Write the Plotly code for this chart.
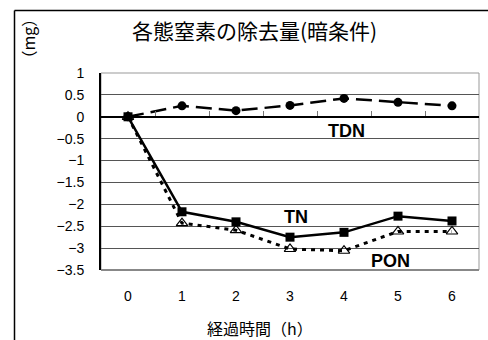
import plotly.graph_objects as go

hours = [0, 1, 2, 3, 4, 5, 6]
tdn = [0, 0.25, 0.14, 0.26, 0.42, 0.33, 0.25]
tn = [0, -2.17, -2.4, -2.75, -2.64, -2.27, -2.38]
pon = [0, -2.43, -2.59, -3.02, -3.06, -2.62, -2.62]

title_text = "各態窒素の除去量(暗条件)"
x_title = "経過時間（h）"
y_title = "（mg）"
series_labels = [("TDN", 4.04, -0.33), ("TN", 3.12, -2.29), ("PON", 4.86, -3.29)]

W, H = 488, 340
L, R, T, B = 101, 9, 73, 70
pw, ph = W - L - R, H - T - B

def px(xp):
    return (xp - L) / pw

def py(yp):
    return (H - B - yp) / ph

cjk = "Noto Sans CJK JP"
latin = "Liberation Sans"

fig = go.Figure()
fig.add_trace(go.Scatter(x=hours, y=tdn, mode="lines+markers", name="TDN",
                         line=dict(color="black", width=2.5, dash="16px,7px"),
                         marker=dict(symbol="circle", size=9, color="black")))
fig.add_trace(go.Scatter(x=hours, y=pon, mode="lines+markers", name="PON",
                         line=dict(color="black", width=3, dash="4px,5px"),
                         marker=dict(symbol="triangle-up-open", size=10, color="black",
                                     line=dict(width=1.2, color="black"))))
fig.add_trace(go.Scatter(x=hours, y=tn, mode="lines+markers", name="TN",
                         line=dict(color="black", width=2.5),
                         marker=dict(symbol="square", size=9, color="black")))
fig.add_trace(go.Scatter(x=hours, y=[None] * len(hours), xaxis="x2", showlegend=False,
                         hoverinfo="skip"))

for txt, xv, yv in series_labels:
    fig.add_annotation(x=xv, y=yv, text="<b>%s</b>" % txt, showarrow=False,
                       xanchor="center", yanchor="middle",
                       font=dict(family=latin, size=18, color="black"))

fig.add_annotation(x=px(254), y=py(30), xref="paper", yref="paper", text=title_text,
                   xanchor="center", yanchor="middle",
                   showarrow=False, font=dict(family=cjk, size=21, color="black"))
fig.add_annotation(x=px(27), y=py(38.5), xref="paper", yref="paper", text=y_title,
                   xanchor="center", yanchor="middle",
                   textangle=-90, showarrow=False, font=dict(family=cjk, size=16, color="black"))
fig.add_annotation(x=px(259.5), y=py(328), xref="paper", yref="paper", text=x_title,
                   xanchor="center", yanchor="middle",
                   showarrow=False, font=dict(family=cjk, size=16, color="black"))

# plot area border
fig.add_shape(type="rect", xref="paper", yref="paper", x0=0, x1=1, y0=0, y1=1,
              line=dict(color="#999999", width=1), layer="below")
fig.add_shape(type="line", xref="paper", yref="paper", x0=0, x1=1, y0=0, y1=0,
              line=dict(color="#888888", width=2), layer="below")
# outer frame
fig.add_shape(type="line", xref="paper", yref="paper", x0=px(14.5), x1=px(490),
              y0=py(10.5), y1=py(10.5), line=dict(color="black", width=1.5))
fig.add_shape(type="line", xref="paper", yref="paper", x0=px(14.5), x1=px(14.5),
              y0=py(10.5), y1=py(345), line=dict(color="black", width=1.5))

fig.update_layout(
    width=W, height=H, margin=dict(l=L, r=R, t=T, b=B),
    paper_bgcolor="white", plot_bgcolor="white", showlegend=False,
    xaxis=dict(range=[-0.5, 6.5], tickmode="array", tickvals=hours, ticks="",
               showline=False, showgrid=False, zeroline=False,
               tickfont=dict(family=latin, size=14, color="black"),
               ticklabelstandoff=16),
    xaxis2=dict(range=[-0.5, 6.5], overlaying="x", anchor="free",
                position=3.5 / 4.5, side="bottom", showticklabels=False,
                tickmode="linear", tick0=0.5, dtick=1, ticks="inside", ticklen=5,
                tickcolor="#777777", tickwidth=1, showline=True, linecolor="black",
                linewidth=1.5, showgrid=False, zeroline=False),
    yaxis=dict(range=[-3.5, 1], dtick=0.5, tick0=0, showgrid=True, gridcolor="#555555",
               gridwidth=1, zeroline=False, showline=True, linecolor="black", linewidth=2,
               ticks="", tickfont=dict(family=latin, size=14, color="black"),
               ticklabelstandoff=12),
)

fig.write_html("out.html", config={"displayModeBar": False},
               post_script="document.body.style.margin='0';")
